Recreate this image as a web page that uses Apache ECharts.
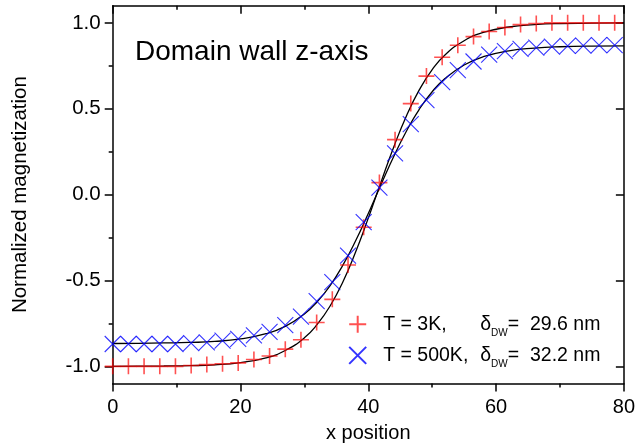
<!DOCTYPE html>
<html><head><meta charset="utf-8">
<script src="https://cdn.jsdelivr.net/npm/echarts@6/dist/echarts.min.js"></script>
<style>html,body{margin:0;padding:0;background:#fff}#c{width:638px;height:448px}</style>
</head><body><div id="c"></div>
<script>
// marker x positions (nm)
const xPos = [0.0, 2.46, 4.91, 7.37, 9.82, 12.28, 14.73, 17.19, 19.64, 22.1, 24.55, 27.01, 29.46, 31.92, 34.37, 36.83, 39.28, 41.74, 44.19, 46.65, 49.1, 51.56, 54.01, 56.47, 58.92, 61.38, 63.83, 66.29, 68.74, 71.2, 73.65, 76.11, 78.56];
const red3K = [-1.0, -1.0, -1.0, -1.0, -1.0, -0.995, -0.99, -0.985, -0.98, -0.96, -0.94, -0.90, -0.845, -0.745, -0.61, -0.41, -0.19, 0.07, 0.32, 0.53, 0.69, 0.80, 0.87, 0.92, 0.95, 0.973, 0.99, 0.996, 1.0, 1.0, 1.0, 1.0, 1.0];
const blue500K = [-0.87, -0.87, -0.87, -0.87, -0.87, -0.865, -0.86, -0.85, -0.84, -0.82, -0.80, -0.76, -0.71, -0.62, -0.51, -0.355, -0.16, 0.04, 0.24, 0.41, 0.55, 0.655, 0.725, 0.775, 0.815, 0.835, 0.848, 0.856, 0.862, 0.866, 0.868, 0.87, 0.87];
// fit curves
const fitX = [0, 4, 8, 12, 16, 20, 24, 27, 30, 32, 34, 36, 38, 40, 41, 42, 44, 46, 48, 50, 52, 55, 58, 62, 66, 70, 75, 80];
const fit3K = [-1.0, -0.999, -0.998, -0.996, -0.991, -0.978, -0.951, -0.908, -0.834, -0.756, -0.650, -0.510, -0.336, -0.137, -0.032, 0.074, 0.279, 0.461, 0.611, 0.728, 0.813, 0.896, 0.944, 0.976, 0.990, 0.996, 0.998, 1.0];
const fit500K = [-0.867, -0.866, -0.864, -0.861, -0.855, -0.840, -0.810, -0.767, -0.695, -0.624, -0.531, -0.412, -0.270, -0.110, -0.025, 0.059, 0.223, 0.372, 0.498, 0.599, 0.676, 0.755, 0.803, 0.837, 0.853, 0.861, 0.865, 0.866];
const yMajor = [-1.0, -0.5, 0.0, 0.5, 1.0];
const yMinor = [-0.75, -0.25, 0.25, 0.75];
const seriesNames = ['T = 3K', 'T = 500K'];
const deltaDW = ['29.6 nm', '32.2 nm'];

const FONT = 'Liberation Sans, Arial, sans-serif';
const BLACK = '#000';
const chart = echarts.init(document.getElementById('c'), null, {renderer: 'canvas'});
const pair = (xs, ys) => xs.map((x, i) => [x, ys[i]]);
const axLine = {show: true, onZero: false, lineStyle: {color: BLACK, width: 1.5}};
const tickStyle = {color: BLACK, width: 1.5};
const yBase = {type: 'value', min: -1.1, max: 1.1, splitLine: {show: false}, gridIndex: 0};

chart.setOption({
  animation: false,
  backgroundColor: '#fff',
  grid: {left: 112.7, right: 12, top: 5.7, bottom: 62, containLabel: false},
  title: {text: 'Domain wall z-axis', left: 135, top: 38, padding: 0,
    textStyle: {fontSize: 28, fontWeight: 'normal', color: BLACK, fontFamily: FONT}},
  legend: {
    orient: 'vertical', left: 348.2, top: 314.2, padding: 0,
    itemWidth: 17, itemHeight: 17, itemGap: 7.2,
    data: seriesNames,
    formatter: function (name) {
      const i = seriesNames.indexOf(name);
      return '{p| }{a|' + name + ',}{d|δ}{s|DW}{e|=  ' + deltaDW[i] + '}';
    },
    textStyle: {
      fontFamily: FONT, color: BLACK, fontSize: 19,
      rich: {
        p: {width: 12, lineHeight: 28},
        a: {fontSize: 19.5, width: 97, lineHeight: 28, fontFamily: FONT, color: BLACK},
        d: {fontSize: 19.5, lineHeight: 28, fontFamily: FONT, color: BLACK},
        s: {fontSize: 10, lineHeight: 10, verticalAlign: 'bottom', fontFamily: FONT, color: BLACK},
        e: {fontSize: 19.5, lineHeight: 28, fontFamily: FONT, color: BLACK}
      }
    }
  },
  xAxis: [
    {type: 'value', min: 0, max: 80, interval: 20, position: 'bottom',
     axisLine: axLine,
     axisTick: {show: true, inside: false, length: 8, lineStyle: tickStyle},
     minorTick: {show: true, splitNumber: 2, length: 4, lineStyle: tickStyle},
     axisLabel: {fontSize: 20, color: BLACK, fontFamily: FONT, margin: 14},
     splitLine: {show: false}, minorSplitLine: {show: false},
     name: 'x position', nameLocation: 'middle', nameGap: 39.5,
     nameTextStyle: {fontSize: 20, color: BLACK, fontFamily: FONT}},
    {type: 'value', min: 0, max: 80, interval: 20, position: 'top',
     axisLine: axLine,
     axisTick: {show: true, inside: true, length: 8, lineStyle: tickStyle},
     minorTick: {show: true, splitNumber: 2, length: 4, lineStyle: tickStyle},
     axisLabel: {show: false}, splitLine: {show: false}}
  ],
  yAxis: [
    Object.assign({}, yBase, {position: 'left', axisLine: axLine,
     axisTick: {show: true, inside: false, length: 8, customValues: yMajor, lineStyle: tickStyle},
     axisLabel: {customValues: yMajor, formatter: v => v.toFixed(1), fontSize: 20.5, color: BLACK, fontFamily: FONT, margin: 12},
     name: 'Normalized magnetization', nameLocation: 'middle', nameGap: 82,
     nameTextStyle: {fontSize: 20.5, color: BLACK, fontFamily: FONT}}),
    Object.assign({}, yBase, {position: 'left', axisLine: {show: false},
     axisTick: {show: true, inside: false, length: 4, customValues: yMinor, lineStyle: tickStyle},
     axisLabel: {show: false}}),
    Object.assign({}, yBase, {position: 'right', axisLine: axLine,
     axisTick: {show: true, inside: true, length: 8, customValues: yMajor, lineStyle: tickStyle},
     axisLabel: {show: false}}),
    Object.assign({}, yBase, {position: 'right', axisLine: {show: false},
     axisTick: {show: true, inside: true, length: 4, customValues: yMinor, lineStyle: tickStyle},
     axisLabel: {show: false}})
  ],
  series: [
    {name: 'T = 3K fit', type: 'line', data: pair(fitX, fit3K), showSymbol: false, smooth: 0.5,
     lineStyle: {color: BLACK, width: 1.3}, z: 2, silent: true},
    {name: 'T = 500K fit', type: 'line', data: pair(fitX, fit500K), showSymbol: false, smooth: 0.5,
     lineStyle: {color: BLACK, width: 1.3}, z: 2, silent: true},
    {name: seriesNames[0], type: 'scatter', data: pair(xPos, red3K),
     symbol: 'path://M0,5L10,5M5,0L5,10', symbolSize: 16,
     itemStyle: {color: 'rgba(0,0,0,0)', borderColor: 'rgba(255,0,0,0.85)', borderWidth: 1.6}, z: 3},
    {name: seriesNames[1], type: 'scatter', data: pair(xPos, blue500K),
     symbol: 'path://M0,0L10,10M10,0L0,10', symbolSize: 16,
     itemStyle: {color: 'rgba(0,0,0,0)', borderColor: '#0000ff', borderWidth: 1.1}, z: 3}
  ]
});
</script></body></html>
